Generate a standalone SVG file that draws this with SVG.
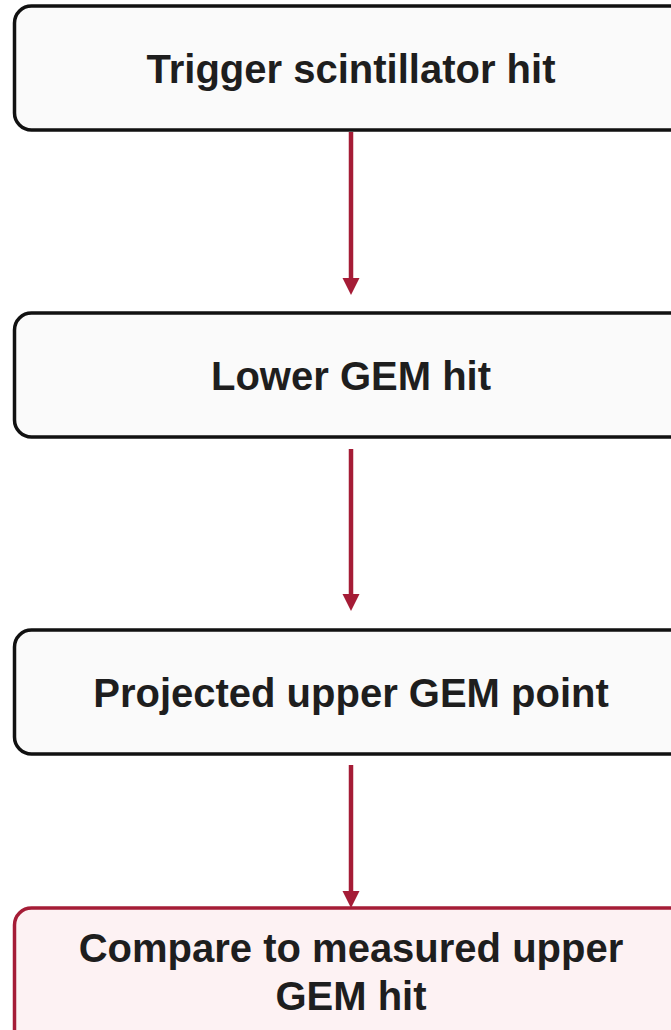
<svg xmlns="http://www.w3.org/2000/svg" width="671" height="1030" viewBox="0 0 671 1030">
  <style>
    .box { fill: #fafafa; stroke: #111111; stroke-width: 3.5; }
    .box.final { fill: #fdf2f3; stroke: #a51c36; }
    .label { font-family: "Liberation Sans", Arial, sans-serif; font-weight: bold; font-size: 40px; fill: #1e1e1e; text-anchor: middle; }
    .edge { stroke: #a51c36; stroke-width: 4.5; fill: none; }
    .head { fill: #a51c36; }
  </style>
  <rect width="671" height="1030" fill="#ffffff"/>

  <!-- vertical flow arrows between the stages -->
  <g id="connectors">
    <line class="edge" x1="351" y1="132" x2="351" y2="280"/>
    <path class="head" d="M342.5,278 L359.5,278 L351,295 Z"/>
    <line class="edge" x1="351" y1="449" x2="351" y2="596"/>
    <path class="head" d="M342.5,594 L359.5,594 L351,611 Z"/>
    <line class="edge" x1="351" y1="765" x2="351" y2="893"/>
    <path class="head" d="M342.5,891 L359.5,891 L351,908 Z"/>
  </g>

  <g id="node-trigger">
    <rect class="box" x="14.5" y="6" width="680" height="124" rx="17"/>
    <text class="label" x="351" y="83">Trigger scintillator hit</text>
  </g>
  <g id="node-lower-gem">
    <rect class="box" x="14.5" y="313" width="680" height="124" rx="17"/>
    <text class="label" x="351" y="390">Lower GEM hit</text>
  </g>
  <g id="node-projected">
    <rect class="box" x="14.5" y="630" width="680" height="124" rx="17"/>
    <text class="label" x="351" y="707">Projected upper GEM point</text>
  </g>
  <g id="node-compare">
    <rect class="box final" x="14.5" y="908" width="680" height="160" rx="17"/>
    <text class="label" x="351" y="962">Compare to measured upper</text>
    <text class="label" x="351" y="1010">GEM hit</text>
  </g>
</svg>
